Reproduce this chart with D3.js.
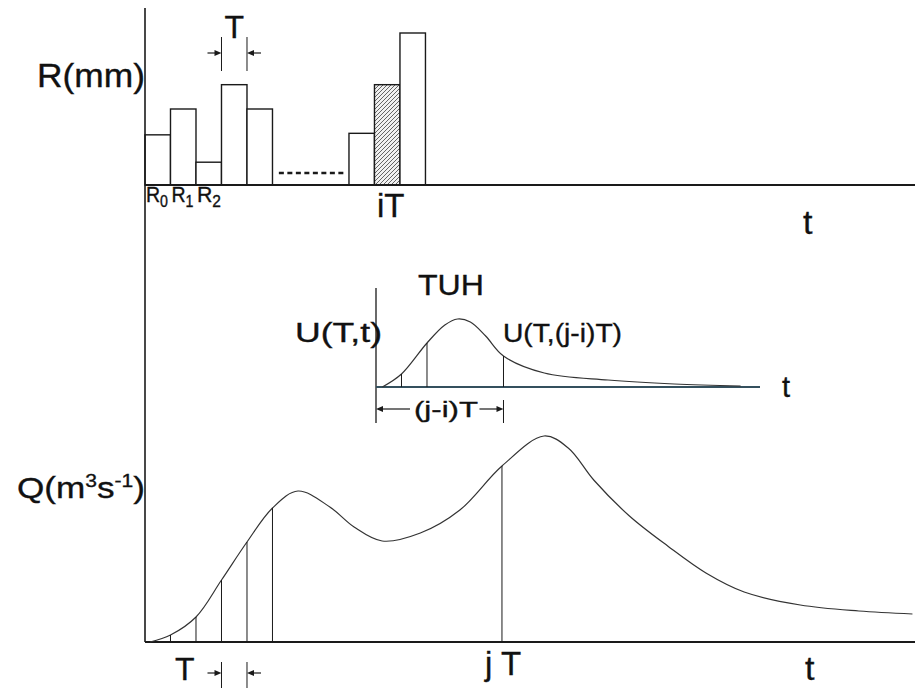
<html>
<head>
<style>
body {
  margin: 0;
  background: #ffffff;
}
svg {
  display: block;
}
text {
  font-family: "Liberation Sans", Arial, sans-serif;
  fill: #111111;
  stroke: #111111;
  stroke-width: 0.35;
}
</style>
</head>
<body>
<script src="https://cdnjs.cloudflare.com/ajax/libs/d3/7.8.5/d3.min.js"></script>
<script>
// rainfall blocks, index k means the interval [kT, (k+1)T]
var rainIndex = [0, 1, 2, 3, 4, 8, 9, 10]
var rainValues = [3.3, 5.0, 1.5, 6.6, 5.0, 3.4, 6.6, 10.0]
var rainHatched = 9   // the block at iT

// outflow hydrograph Q(t), t in units of T
var qTimes = [0.2, 1, 2, 3, 4, 5, 6, 7.25, 8.2, 9.3, 10.8, 12.35, 14, 15.65, 16.6, 17.6, 19, 20.5, 22, 23.5, 25.7, 28, 30.1]
var qValues = [0, 3.5, 12.5, 31, 50, 67, 75.5, 67.5, 57.5, 50.5, 54.5, 66, 88, 103, 97, 81, 63, 48, 34.5, 25, 18.5, 15.5, 14]
var qMarks = [1, 2, 3, 4, 5, 14]

// T-hour unit hydrograph U(T,t)
var uTimes = [0.25, 1, 2, 2.7, 3.2, 3.7, 4.3, 5, 6.6, 9.1, 11.7, 14.3]
var uValues = [0, 13, 44, 62, 68, 65, 51, 31, 14, 7, 3, 1]
var uMarks = [1, 2, 5]

var width = 920,
    height = 688;

var svg = d3.select("body")
  .append("svg")
  .attr("width", width)
  .attr("height", height)

var ink = "#1a1a1a"

// shared time scale (units of T)
var x = d3.scaleLinear().domain([0, 30.2]).range([145, 915])
var xu = d3.scaleLinear().domain([0, 15.06]).range([376, 760])
var yR = d3.scaleLinear().domain([0, 10]).range([185, 33])
var yQ = d3.scaleLinear().domain([0, 103]).range([642, 436])
var yU = d3.scaleLinear().domain([0, 68]).range([387, 319])

var defs = svg.append("defs")
var pat = defs.append("pattern")
  .attr("id", "hatch")
  .attr("patternUnits", "userSpaceOnUse")
  .attr("width", 4)
  .attr("height", 4)
pat.append("rect").attr("width", 4).attr("height", 4).attr("fill", "#f0f0f0")
pat.append("path")
  .attr("d", "M-1,1 l2,-2 M0,4 l4,-4 M3,5 l2,-2")
  .attr("stroke", "#555")
  .attr("stroke-width", 0.9)

function hline(x1, x2, y, w, color) {
  return svg.append("line")
    .attr("x1", x1).attr("x2", x2)
    .attr("y1", y).attr("y2", y)
    .attr("stroke", color || ink)
    .attr("stroke-width", w || 1)
}

function vline(xp, y1, y2, w) {
  return svg.append("line")
    .attr("x1", xp).attr("x2", xp)
    .attr("y1", y1).attr("y2", y2)
    .attr("stroke", ink)
    .attr("stroke-width", w || 1)
}

// line with an arrow head at (tip, y)
function arrow(from, tip, y) {
  var dir = tip > from ? 1 : -1
  hline(from, tip - dir * 5, y, 1.2)
  svg.append("path")
    .attr("d", "M" + tip + "," + y + " L" + (tip - dir * 7) + "," + (y - 3) + " L" + (tip - dir * 7) + "," + (y + 3) + " Z")
    .attr("fill", ink)
}

function label(str, xp, yp, size, len, anchor) {
  var t = svg.append("text")
    .attr("x", xp)
    .attr("y", yp)
    .attr("font-size", size)
    .attr("text-anchor", anchor || "start")
    .text(str)
  if (len) t.attr("textLength", len).attr("lengthAdjust", "spacingAndGlyphs")
  return t
}

// ---- rainfall panel ----
svg.selectAll(".bar")
  .data(rainIndex)
  .enter().append("rect")
  .attr("class", "bar")
  .attr("x", function(d) { return x(d) })
  .attr("width", function(d) { return x(d + 1) - x(d) })
  .attr("y", function(d, i) { return yR(rainValues[i]) })
  .attr("height", function(d, i) { return yR(0) - yR(rainValues[i]) })
  .attr("fill", function(d) { return d === rainHatched ? "url(#hatch)" : "#fff" })
  .attr("stroke", ink)
  .attr("stroke-width", 1.4)

// dotted gap between blocks
hline(x(5.25), x(7.8), 173, 2.5).attr("stroke-dasharray", "5,3.5")

hline(145, 915, yR(0), 2)

// T width marker
vline(x(3), 37, 71)
vline(x(4), 37, 71)
arrow(x(3) - 14, x(3), 53)
arrow(x(4) + 14, x(4), 53)
label("T", (x(3) + x(4)) / 2, 38, 32, null, "middle")

label("R(mm)", 37, 87, 33, 108)

var subs = ["0", "1", "2"]
subs.forEach(function(s, k) {
  var t = svg.append("text")
    .attr("x", x(k) + 1)
    .attr("y", 202)
    .attr("font-size", 22)
    .attr("textLength", k === 2 ? 24 : 22)
    .attr("lengthAdjust", "spacingAndGlyphs")
  t.append("tspan").text("R")
  t.append("tspan").attr("font-size", 16).attr("dy", 5).text(s)
})

label("iT", 377, 217, 33)
label("t", 803, 234, 34)

// ---- T-hour unit hydrograph ----
vline(xu(0), 288, 423, 1.3)
hline(xu(0), 760, yU(0), 2, "#34505e")

var lineU = d3.line()
  .x(function(d, i) { return xu(uTimes[i]) })
  .y(function(d) { return yU(d) })
  .curve(d3.curveCatmullRom)

svg.append("path")
  .datum(uValues)
  .attr("d", lineU)
  .attr("fill", "none")
  .attr("stroke", "#333")
  .attr("stroke-width", 1.2)

svg.selectAll(".umark")
  .data(uMarks)
  .enter().append("line")
  .attr("class", "umark")
  .attr("x1", function(d) { return xu(d) })
  .attr("x2", function(d) { return xu(d) })
  .attr("y1", yU(0))
  .attr("y2", function(d) { return yU(uValues[uTimes.indexOf(d)]) })
  .attr("stroke", ink)
  .attr("stroke-width", 1)

vline(xu(5), 400, 423)
arrow(xu(0) + 34, xu(0), 409)
arrow(xu(5) - 24, xu(5), 409)
label("(j-i)T", 414, 417, 22, 64)

label("TUH", 418, 295, 30, 66)
label("U(T,t)", 295, 342, 27, 87)
label("U(T,(j-i)T)", 503, 342, 25, 119)
label("t", 782, 397, 29)

// ---- outflow hydrograph ----
vline(145, 8, 642, 1.6)
hline(145, 915, yQ(0), 2)

var lineQ = d3.line()
  .x(function(d, i) { return x(qTimes[i]) })
  .y(function(d) { return yQ(d) })
  .curve(d3.curveCatmullRom)

svg.append("path")
  .datum(qValues)
  .attr("d", lineQ)
  .attr("fill", "none")
  .attr("stroke", "#333")
  .attr("stroke-width", 1.2)

svg.selectAll(".qmark")
  .data(qMarks)
  .enter().append("line")
  .attr("class", "qmark")
  .attr("x1", function(d) { return x(d) })
  .attr("x2", function(d) { return x(d) })
  .attr("y1", yQ(0))
  .attr("y2", function(d) { return yQ(qValues[qTimes.indexOf(d)]) })
  .attr("stroke", ink)
  .attr("stroke-width", 1)

var ql = svg.append("text")
  .attr("x", 17)
  .attr("y", 498)
  .attr("font-size", 30)
  .attr("textLength", 128)
  .attr("lengthAdjust", "spacingAndGlyphs")
ql.append("tspan").text("Q(m")
ql.append("tspan").attr("font-size", 18).attr("dy", -11).text("3")
ql.append("tspan").attr("dy", 11).text("s")
ql.append("tspan").attr("font-size", 18).attr("dy", -11).text("-1")
ql.append("tspan").attr("dy", 11).text(")")

vline(x(3), 662, 688)
vline(x(4), 662, 688)
arrow(x(3) - 14, x(3), 673)
arrow(x(4) + 14, x(4), 673)
label("T", 175, 680, 32)
label("j T", 485, 675, 33)
label("t", 805, 680, 34)
</script>
</body>
</html>
